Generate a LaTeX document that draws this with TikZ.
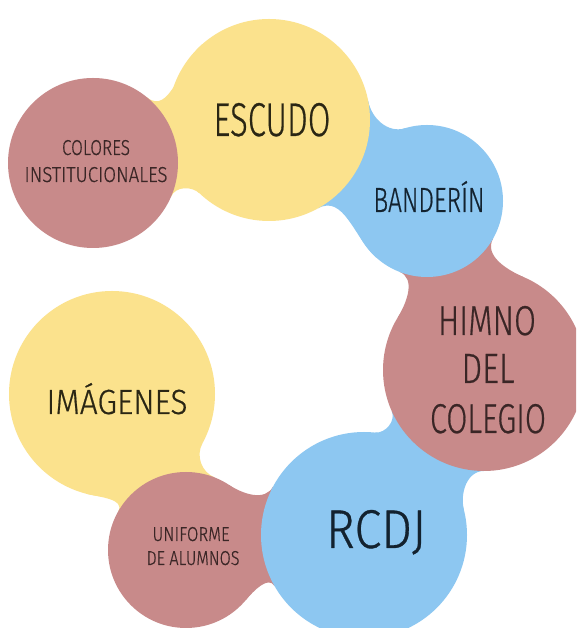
\documentclass[tikz,border=0pt]{standalone}
\usepackage{fontspec}
\setmainfont{Fira Sans}[UprightFont=* Light, UprightFeatures={FakeBold=0.6}]
\usepackage{graphicx}
\usetikzlibrary{calc}
\definecolor{cyel}{HTML}{FBE28D}
\definecolor{cblu}{HTML}{8DC7F1}
\definecolor{cred}{HTML}{C88A8A}
\definecolor{tyel}{HTML}{2A2614}
\definecolor{tblu}{HTML}{13222F}
\definecolor{tred}{HTML}{3A2626}
\newcommand\fitbox[3]{\resizebox{#1pt}{#2pt}{#3}}
\def\rC{85}\def\rE{101}\def\rB{76}\def\rH{101}\def\rR{103}\def\rU{78}\def\rI{103}
% #1 colour, #2 circle A, #3 circle B, #4 direction A->B,
% #5/#6 outer attach angles (A,B), #7/#8 inner attach angles (A,B)
\newcommand\neck[8]{%
 \pgfmathsetmacro\nkAa{#4+#5}%
 \pgfmathsetmacro\nkBa{#4+180-#6}%
 \pgfmathsetmacro\nkBb{#4+180+#8}%
 \pgfmathsetmacro\nkAb{#4-#7}%
 \pgfmathsetmacro\nkOa{#4+#5-90}%
 \pgfmathsetmacro\nkIa{#4-90-#6}%
 \pgfmathsetmacro\nkOb{#4+90+#8}%
 \pgfmathsetmacro\nkIb{#4-#7+90}%
 \fill[#1] ($(#2)+(\nkAa:\csname r#2\endcsname)$) to[out=\nkOa,in=\nkIa]
   ($(#3)+(\nkBa:\csname r#3\endcsname)$) -- ($(#3)+(\nkBb:\csname r#3\endcsname)$)
   to[out=\nkOb,in=\nkIb] ($(#2)+(\nkAb:\csname r#2\endcsname)$) -- cycle;}
\tikzset{lbl/.style={inner sep=0pt, anchor=base}}
\begin{document}
\begin{tikzpicture}[x=1pt,y=1pt]
\useasboundingbox (0,0) rectangle (576,628);
\fill[white] (0,0) rectangle (576,628);
\clip (0,0) rectangle (576,628);
% circle centres
\coordinate (C) at (93,465);
\coordinate (E) at (269,508);
\coordinate (B) at (427,427);
\coordinate (H) at (484,258);
\coordinate (R) at (364,93);
\coordinate (U) at (186,78);
\coordinate (I) at (112,234);
% necks
\neck{cyel}{C}{E}{13.7}{37}{62}{37}{33}
\neck{cblu}{E}{B}{-27.1}{38}{46}{34}{75}
\neck{cred}{B}{H}{-71.4}{42}{42}{40}{40}
\neck{cblu}{H}{R}{-126}{36}{40}{30}{30}
\neck{cred}{R}{U}{-175.2}{25}{45}{33}{52}
\neck{cyel}{U}{I}{115.4}{35}{40}{47}{36}
% circles
\fill[cyel] (I) circle[radius=\rI];
\fill[cred] (U) circle[radius=\rU];
\fill[cblu] (R) circle[radius=\rR];
\fill[cred] (H) circle[radius=\rH];
\fill[cblu] (B) circle[radius=\rB];
\fill[cyel] (E) circle[radius=\rE];
\fill[cred] (C) circle[radius=\rC];
% labels
\node[lbl, text=tred] (tC1) at (96,473) {\fitbox{68}{15}{COLORES}};
\node[lbl, text=tred] (tC2) at (96,446) {\fitbox{143}{15}{INSTITUCIONALES}};
\node[lbl, text=tyel] (tE) at (272,492) {\fitbox{117}{33}{ESCUDO}};
\node[lbl, text=tblu] (tB) at (429,416) {\fitbox{111}{31}{BANDERÍN}};
\node[lbl, text=tred] (tH1) at (487,293) {\fitbox{98}{29}{HIMNO}};
\node[lbl, text=tred] (tH2) at (488,245) {\fitbox{53}{29}{DEL}};
\node[lbl, text=tred] (tH3) at (488,195) {\fitbox{116}{29}{COLEGIO}};
\node[lbl, text=tyel] (tI) at (117,214) {\fitbox{141}{31}{IMÁGENES}};
\node[lbl, text=tblu] (tR) at (376,80) {\fitbox{100}{38}{RCDJ}};
\node[lbl, text=tred] (tU1) at (191,87) {\fitbox{77}{14}{UNIFORME}};
\node[lbl, text=tred] (tU2) at (193,63) {\fitbox{93}{14}{DE ALUMNOS}};
\end{tikzpicture}
\end{document}
